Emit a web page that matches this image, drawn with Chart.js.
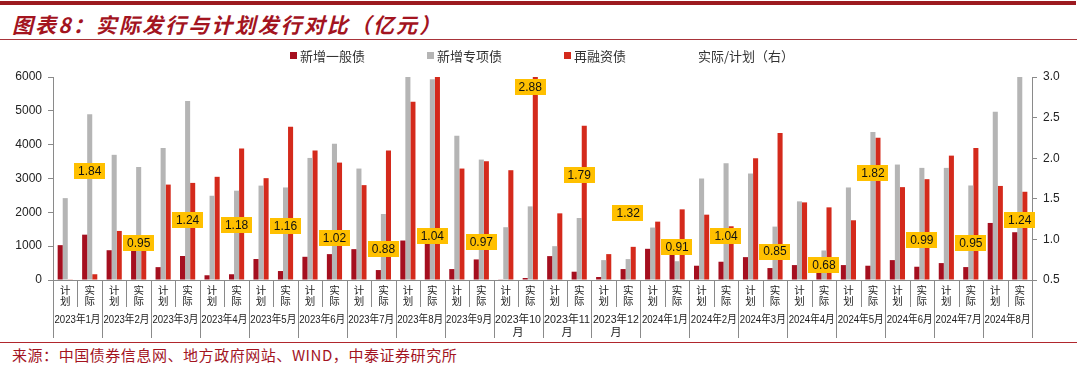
<!DOCTYPE html>
<html><head><meta charset="utf-8">
<script src="https://cdn.jsdelivr.net/npm/chart.js@4.4.1/dist/chart.umd.min.js"></script>
<style>
html,body{margin:0;padding:0;background:#fff;width:1080px;height:368px;overflow:hidden;position:relative;font-family:"Noto Sans CJK SC",sans-serif}
#topline{position:absolute;left:0;top:1px;width:1076px;height:4px;background:#9C1A20}
#title{position:absolute;left:12px;top:11px;font-size:21px;line-height:26px;font-weight:700;font-style:italic;color:#A3141F;letter-spacing:2.1px;white-space:nowrap}
#titleline{position:absolute;left:0;top:39px;width:1077px;height:1px;background:#A8343A}
#wrap{position:absolute;left:0;top:40px;width:1080px;height:302px}
#legend{position:absolute;top:47px;left:0;width:1084px;display:flex;justify-content:center;gap:62px;font-size:13px;line-height:17px;color:#333;white-space:nowrap}
#legend .item{display:flex;align-items:center}
#legend .box{width:7px;height:7px;margin-right:3px}
#bottomline{position:absolute;left:0;top:342px;width:1077px;height:1px;background:#B0272D}
#source{position:absolute;left:12px;top:344px;font-size:15px;line-height:22px;color:#A3141F;letter-spacing:0.55px;white-space:nowrap}
</style>
</head><body>
<div id="topline"></div>
<div id="title">图表8：实际发行与计划发行对比（亿元）</div>
<div id="titleline"></div>
<div id="wrap"><canvas id="c" width="1080" height="302"></canvas></div>
<div id="legend"></div>
<div id="bottomline"></div>
<div id="source">来源：中国债券信息网、地方政府网站、WIND，中泰证券研究所</div>
<script>
// ---- data (亿元) ----
const monthLabels = [
  ['2023年1月'],['2023年2月'],['2023年3月'],['2023年4月'],['2023年5月'],
  ['2023年6月'],['2023年7月'],['2023年8月'],['2023年9月'],['2023年10','月'],
  ['2023年11','月'],['2023年12','月'],['2024年1月'],['2024年2月'],['2024年3月'],
  ['2024年4月'],['2024年5月'],['2024年6月'],['2024年7月'],['2024年8月']
];
const subLabels = ['计划','实际'];
const categories = monthLabels.flatMap(m => subLabels.map(s => m.join('') + s));
// alternating 计划, 实际 for each month
const generalBond = [1030,1340, 880,1190, 380,710, 140,170, 620,265, 686,765, 912,294, 1167,1118, 323,608, 20,60,
                     706,245, 88,323, 922,1176, 422,540, 676,353, 441,230, 441,422, 588,392, 500,382, 1686,1412];
const specialBond = [2420,4900, 3700,3340, 3900,5290, 2490,2640, 2790,2735, 3608,4030, 3294,1950, 6000,5930, 4265,3559, 1560,2176,
                     1000,1833, 588,618, 1550,555, 3000,3451, 3147,1578, 2324,873, 2735,4373, 3412,3314, 3314,2794, 4970,7700];
const refinanceBond = [20,170, 1450,1320, 2820,2870, 3050,3890, 3010,4530, 3824,3470, 2804,3824, 5265,6000, 3294,3510, 3245,11660,
                       1970,4560, 765,980, 1725,2088, 1931,1588, 3598,4343, 2294,2147, 1765,4206, 2745,2980, 3676,3902, 2780,2608];
const ratio = [1.84,0.95,1.24,1.18,1.16,1.02,0.88,1.04,0.97,2.88,1.79,1.32,0.91,1.04,0.85,0.68,1.82,0.99,0.95,1.24];
const leftTicks = [0,1000,2000,3000,4000,5000,6000];
const rightTicks = [0.5,1.0,1.5,2.0,2.5,3.0];

const ratioByCategory = ratio.flatMap(r => [null, r]);
const axisColor = '#8a8a8a';

const xLabelPlugin = {
  id: 'xlabels',
  afterDraw(chart) {
    const ctx = chart.ctx, xs = chart.scales.x, bottom = chart.chartArea.bottom;
    const n = categories.length;
    const step = xs.getPixelForValue(1) - xs.getPixelForValue(0);
    ctx.save();
    ctx.strokeStyle = axisColor; ctx.lineWidth = 1;
    for (let i = 0; i <= n; i++) {
      const bx = Math.round(xs.getPixelForValue(i) - step / 2) + 0.5;
      const len = (i % 2 === 0) ? 58 : 27;
      ctx.beginPath(); ctx.moveTo(bx, bottom); ctx.lineTo(bx, bottom + len); ctx.stroke();
    }
    ctx.fillStyle = '#222'; ctx.textAlign = 'center'; ctx.textBaseline = 'middle';
    ctx.font = '10.5px "Noto Sans CJK SC"';
    for (let i = 0; i < n; i++) {
      const cx = xs.getPixelForValue(i);
      const s = subLabels[i % 2];
      ctx.fillText(s[0], cx, bottom + 10);
      ctx.fillText(s[1], cx, bottom + 21);
    }
    ctx.font = '11px "Liberation Sans", "Noto Sans CJK SC"';
    monthLabels.forEach((lines, k) => {
      const cx = (xs.getPixelForValue(2 * k) + xs.getPixelForValue(2 * k + 1)) / 2;
      lines.forEach((t, j) => ctx.fillText(t, cx, bottom + 40 + j * 13, step * 2 - 3));
    });
    ctx.restore();
  }
};

const ratioLabelPlugin = {
  id: 'ratiolabels',
  afterDatasetsDraw(chart) {
    const idx = 3;
    const meta = chart.getDatasetMeta(idx);
    const data = chart.data.datasets[idx].data;
    const ctx = chart.ctx;
    ctx.save();
    ctx.font = '12px "Liberation Sans"';
    ctx.textAlign = 'center'; ctx.textBaseline = 'middle';
    meta.data.forEach((pt, i) => {
      const v = data[i];
      if (v == null) return;
      const t = v.toFixed(2);
      const w = ctx.measureText(t).width + 8, h = 16;
      ctx.fillStyle = '#FFC000';
      ctx.fillRect(Math.round(pt.x - w / 2), Math.round(pt.y - h / 2), Math.round(w), h);
      ctx.fillStyle = '#111';
      ctx.fillText(t, pt.x, pt.y + 0.5);
    });
    ctx.restore();
  }
};

const chart = new Chart(document.getElementById('c'), {
  type: 'bar',
  data: {
    labels: categories,
    datasets: [
      { label: '新增一般债', data: generalBond, backgroundColor: '#A50F1F', yAxisID: 'y', categoryPercentage: 0.62, barPercentage: 1.0 },
      { label: '新增专项债', data: specialBond, backgroundColor: '#B5B5B5', yAxisID: 'y', categoryPercentage: 0.62, barPercentage: 1.0 },
      { label: '再融资债', data: refinanceBond, backgroundColor: '#D42A1C', yAxisID: 'y', categoryPercentage: 0.62, barPercentage: 1.0 },
      { type: 'line', label: '实际/计划（右）', data: ratioByCategory, yAxisID: 'y1', showLine: false, pointRadius: 0,
        backgroundColor: 'transparent', borderColor: 'transparent' }
    ]
  },
  options: {
    responsive: false, animation: false,
    layout: { padding: { top: 37, left: 0, right: 0, bottom: 0 } },
    plugins: { legend: { display: false }, tooltip: { enabled: false } },
    scales: {
      x: { type: 'category', offset: true, grid: { display: false }, ticks: { display: false },
           border: { display: true, color: axisColor }, afterFit(s) { s.height = 62; } },
      y: { position: 'left', min: leftTicks[0], max: leftTicks[leftTicks.length - 1],
           afterBuildTicks(s) { s.ticks = leftTicks.map(v => ({ value: v })); },
           ticks: { font: { family: 'Liberation Sans', size: 12 }, color: '#222', padding: 6, callback: v => String(v) },
           grid: { drawOnChartArea: false, tickLength: 5, color: axisColor },
           border: { color: axisColor }, afterFit(s) { s.width = 53; } },
      y1: { position: 'right', min: rightTicks[0], max: rightTicks[rightTicks.length - 1],
            afterBuildTicks(s) { s.ticks = rightTicks.map(v => ({ value: v })); },
            ticks: { font: { family: 'Liberation Sans', size: 12 }, color: '#222', padding: 6, callback: v => Number(v).toFixed(1) },
            grid: { drawOnChartArea: false, tickLength: 5, color: axisColor },
            border: { color: axisColor }, afterFit(s) { s.width = 48; } }
    }
  },
  plugins: [xLabelPlugin, ratioLabelPlugin]
});

// HTML legend from datasets
const lg = document.getElementById('legend');
chart.data.datasets.forEach(ds => {
  const it = document.createElement('div'); it.className = 'item';
  const b = document.createElement('span'); b.className = 'box'; b.style.background = ds.backgroundColor;
  const t = document.createElement('span'); t.textContent = ds.label;
  it.appendChild(b); it.appendChild(t); lg.appendChild(it);
});
</script>
</body></html>
